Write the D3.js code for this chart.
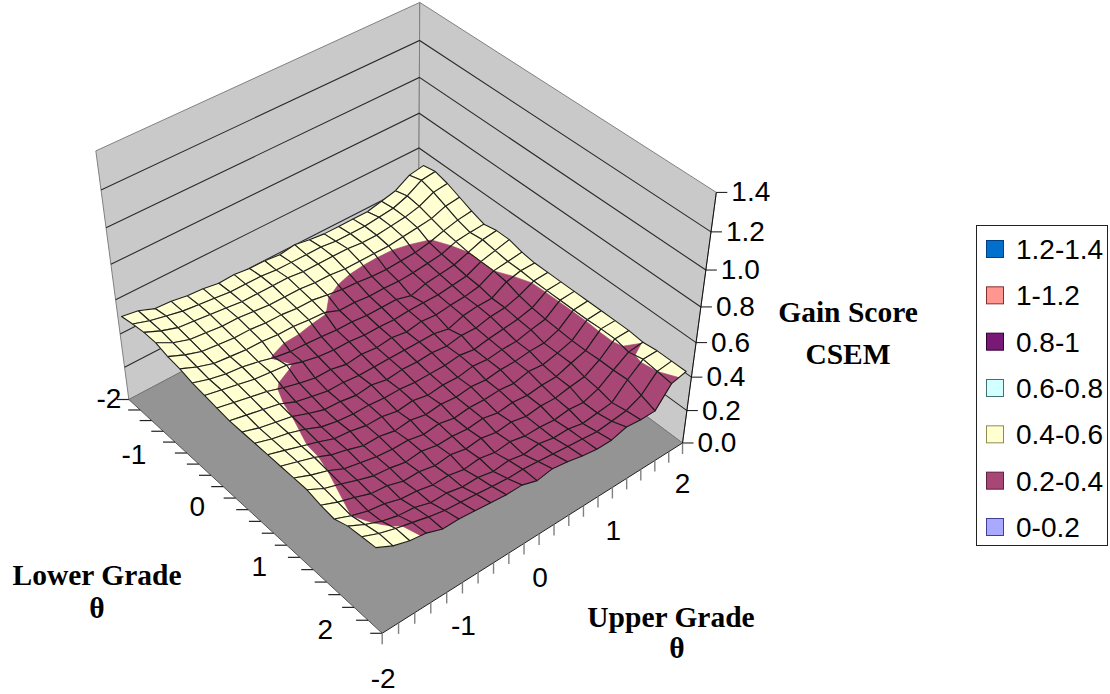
<!DOCTYPE html>
<html>
<head>
<meta charset="utf-8">
<script src="https://cdn.jsdelivr.net/npm/d3@7"></script>
<style>
html,body{margin:0;padding:0;background:#fff;}
svg{display:block;}
text{fill:#000;}
.num{font-family:"Liberation Sans",Arial,sans-serif;font-size:28px;}
.ttl{font-family:"Liberation Serif","Times New Roman",serif;font-weight:bold;font-size:29.5px;text-anchor:middle;}
</style>
</head>
<body>
<svg id="chart" width="1110" height="694"></svg>
<script>
// Theta steps shared by both grade axes
const thetaSteps = [-2,-1.8,-1.6,-1.4,-1.2,-1,-0.8,-0.6,-0.4,-0.2,0,0.2,0.4,0.6,0.8,1,1.2,1.4,1.6,1.8,2];
const thetaLabels = [-2,-1,0,1,2];
const csemTicks = [0,0.2,0.4,0.6,0.8,1,1.2,1.4];
const csemTickLabels = ["0.0","0.2","0.4","0.6","0.8","1.0","1.2","1.4"];

// Band legend, listed top to bottom
const bandNames = ["1.2-1.4","1-1.2","0.8-1","0.6-0.8","0.4-0.6","0.2-0.4","0-0.2"];
const bandFloors = [1.2,1,0.8,0.6,0.4,0.2,0];
const bandCeilings = [1.4,1.2,1,0.8,0.6,0.4,0.2];
const bandFills = ["#0070cc","#ff9690","#7a1878","#d2ffff","#ffffd2","#a84675","#a9a9ff"];
const bandEdges = ["#004080","#803030","#30002f","#407070","#8c8c50","#60203f","#404090"];

// Gain score CSEM: one row per lower grade theta, one column per upper grade theta
const csem = [
[.525,.51,.475,.47,.455,.45,.435,.44,.43,.43,.42,.435,.42,.41,.41,.41,.41,.43,.45,.50,.515],
[.54,.51,.49,.47,.46,.45,.44,.44,.44,.43,.43,.43,.43,.42,.42,.42,.43,.44,.47,.52,.53],
[.55,.51,.48,.47,.46,.45,.44,.44,.44,.44,.43,.43,.43,.43,.42,.42,.43,.44,.46,.50,.51],
[.55,.50,.47,.46,.45,.45,.44,.43,.43,.43,.42,.42,.41,.41,.41,.41,.42,.43,.44,.47,.48],
[.53,.49,.46,.45,.44,.44,.43,.43,.42,.42,.405,.39,.385,.375,.37,.375,.38,.395,.42,.44,.45],
[.52,.48,.45,.44,.43,.43,.42,.42,.41,.405,.37,.37,.36,.36,.355,.36,.37,.38,.41,.42,.425],
[.50,.47,.45,.44,.42,.395,.38,.375,.37,.36,.36,.35,.35,.35,.325,.35,.36,.37,.40,.43,.44],
[.49,.47,.45,.43,.42,.41,.38,.36,.35,.35,.34,.34,.335,.34,.34,.34,.35,.36,.40,.42,.44],
[.48,.46,.44,.42,.39,.365,.345,.345,.325,.335,.325,.335,.32,.335,.325,.335,.34,.355,.40,.41,.42],
[.47,.45,.43,.41,.37,.35,.33,.33,.32,.32,.32,.32,.32,.32,.30,.33,.34,.34,.39,.41,.41],
[.47,.44,.42,.40,.365,.335,.33,.315,.325,.305,.315,.31,.315,.305,.32,.315,.335,.34,.365,.405,.41],
[.47,.44,.42,.39,.35,.33,.32,.32,.31,.31,.30,.30,.30,.31,.295,.31,.32,.33,.35,.405,.41],
[.47,.44,.41,.38,.345,.335,.315,.315,.295,.305,.285,.295,.29,.305,.295,.305,.305,.325,.34,.405,.41],
[.47,.44,.41,.37,.345,.315,.315,.295,.305,.285,.295,.285,.295,.285,.295,.295,.305,.305,.335,.405,.41],
[.47,.43,.40,.355,.335,.315,.305,.305,.285,.295,.275,.285,.28,.285,.275,.295,.285,.305,.33,.405,.41],
[.47,.42,.39,.355,.325,.315,.295,.305,.285,.285,.275,.285,.265,.275,.265,.275,.275,.305,.33,.41,.41],
[.45,.41,.38,.345,.335,.305,.305,.285,.295,.275,.285,.265,.275,.255,.265,.26,.275,.285,.335,.41,.41],
[.44,.40,.37,.355,.325,.315,.295,.295,.275,.285,.265,.275,.255,.255,.245,.255,.245,.275,.335,.392,.401],
[.47,.42,.38,.355,.345,.315,.315,.295,.295,.275,.285,.265,.275,.255,.255,.235,.245,.255,.34,.41,.41],
[.48,.44,.41,.385,.36,.34,.33,.32,.31,.30,.30,.29,.28,.27,.26,.25,.26,.27,.31,.40,.41],
[.49,.44,.41,.395,.36,.36,.35,.34,.33,.33,.30,.315,.30,.28,.265,.265,.29,.28,.28,.39,.41]
];

// Where the corners of the plot box fall on the page: [u, v, w, x, y]
const boxAnchors = [
  [0,0,0,128,397],[0,0,1,97,152],[0,1,0,382,635],[1,1,0,683,440],
  [1,1,1,716,194],[1,0,0,419,250],[1,0,1,419,0]
];

// Fit a 3x4 camera matrix to the anchors by least squares
function fitCamera(anchors){
  const A=[],b=[],k=1000;
  anchors.forEach(([u,v,w,x,y])=>{
    const X=x/k,Y=y/k;
    A.push([u,v,w,1,0,0,0,0,-X*u,-X*v,-X*w]); b.push(X);
    A.push([0,0,0,0,u,v,w,1,-Y*u,-Y*v,-Y*w]); b.push(Y);
  });
  const n=11,M=d3.range(n).map(r=>d3.range(n+1).map(c=>{
    let s=0;A.forEach((row,i)=>{s+=row[r]*(c<n?row[c]:b[i]);});
    return s+(c===r?1e-9:0);
  }));
  for(let c=0;c<n;c++){
    let p=c;for(let r=c+1;r<n;r++)if(Math.abs(M[r][c])>Math.abs(M[p][c]))p=r;
    [M[c],M[p]]=[M[p],M[c]];
    for(let r=0;r<n;r++)if(r!==c){
      const f=M[r][c]/M[c][c];
      for(let t=c;t<=n;t++)M[r][t]-=f*M[c][t];
    }
  }
  const m=M.map((row,i)=>row[n]/row[i]);
  return (u,v,w)=>{
    const d=m[8]*u+m[9]*v+m[10]*w+1;
    return [k*(m[0]*u+m[1]*v+m[2]*w+m[3])/d,k*(m[4]*u+m[5]*v+m[6]*w+m[7])/d];
  };
}
const project = fitCamera(boxAnchors);

const uScale = d3.scaleLinear().domain([-2,2]).range([0,1]);
const vScale = d3.scaleLinear().domain([-2,2]).range([0,1]);
const vSurface = d3.scaleLinear().domain([-2,2]).range([0.018,0.982]);
const wScale = d3.scaleLinear().domain([0,1.4]).range([0,1]);

const svg = d3.select("#chart");
const polyPath = d3.line();
const closed = pts => polyPath(pts)+"Z";

// Walls and floor
const wallColor="#c9c9c9", floorColor="#949494", edgeColor="#808080";
const leftWall=[[0,0,0],[1,0,0],[1,0,1],[0,0,1]].map(p=>project(...p));
const rightWall=[[1,0,0],[1,1,0],[1,1,1],[1,0,1]].map(p=>project(...p));
const floor=[[0,0,0],[0,1,0],[1,1,0],[1,0,0]].map(p=>project(...p));
const box=svg.append("g");
box.selectAll("path.wall").data([leftWall,rightWall]).join("path").attr("class","wall")
  .attr("d",closed).attr("fill",wallColor).attr("stroke",edgeColor).attr("stroke-width",1);
box.append("path").attr("d",closed(floor)).attr("fill",floorColor);

// Horizontal gridlines running across both walls
const gridG=svg.append("g").attr("fill","none").attr("stroke","#2a2a2a").attr("stroke-width",1.1);
csemTicks.slice(1,-1).forEach(t=>{
  const w=wScale(t);
  gridG.append("path").attr("d",polyPath([project(0,0,w),project(1,0,w),project(1,1,w)]));
});

// Floor edges
const floorEdge=svg.append("g").attr("fill","none");
floorEdge.append("path").attr("d",polyPath([floor[0],floor[1]])).attr("stroke","#555");
floorEdge.append("path").attr("d",polyPath([floor[1],floor[2]])).attr("stroke","#222");
floorEdge.append("path").attr("d",polyPath([floor[2],floor[3]])).attr("stroke","#777");
floorEdge.append("path").attr("d",polyPath([floor[3],floor[0]])).attr("stroke","#777");

// Surface: clip every cell against each colour band, painting from the back corner forward
function clipBand(poly,lo,hi){
  const clip=(pts,keep,level)=>{
    const out=[];
    pts.forEach((a,i)=>{
      const c=pts[(i+1)%pts.length],ka=keep(a[2]),kc=keep(c[2]);
      if(ka)out.push(a);
      if(ka!==kc){
        const t=(level-a[2])/(c[2]-a[2]);
        out.push([a[0]+t*(c[0]-a[0]),a[1]+t*(c[1]-a[1]),level]);
      }
    });
    return out;
  };
  return clip(clip(poly,z=>z>=lo,lo),z=>z<=hi,hi);
}
const toPage=([th,lo,z])=>project(uScale(th),vSurface(lo),wScale(z));
const surf=svg.append("g").attr("stroke-linejoin","round");
const cells=[];
for(let j=0;j<thetaSteps.length-1;j++)for(let i=thetaSteps.length-2;i>=0;i--)cells.push([i,j]);
cells.sort((a,b)=>(b[0]-b[1])-(a[0]-a[1]));
cells.forEach(([i,j])=>{
  const quad=[[i,j],[i+1,j],[i+1,j+1],[i,j+1]].map(([a,b])=>[thetaSteps[a],thetaSteps[b],csem[b][a]]);
  bandNames.forEach((_,k)=>{
    const piece=clipBand(quad,bandFloors[k],bandCeilings[k]);
    if(piece.length>2){
      const c=bandFills[k];
      surf.append("path").attr("d",closed(piece.map(toPage))).attr("fill",c).attr("stroke",c).attr("stroke-width",.6);
    }
  });
  surf.append("path").attr("d",closed(quad.map(toPage))).attr("fill","none").attr("stroke","#1c1c1c").attr("stroke-width",1.1);
});

// Lower grade axis ticks along the left front edge
const axes=svg.append("g");
thetaSteps.forEach(t=>{
  const [x,y]=project(0,vScale(t),0);
  axes.append("line").attr("x1",x-12).attr("x2",x).attr("y1",y).attr("y2",y).attr("stroke","#222").attr("stroke-width",1.2);
});
// Upper grade axis ticks along the right front edge
thetaSteps.forEach(t=>{
  const [x,y]=project(uScale(t),1,0);
  axes.append("line").attr("x1",x).attr("x2",x).attr("y1",y).attr("y2",y+11).attr("stroke","#808080").attr("stroke-width",1.4);
});
// CSEM axis with its ticks
const zBase=project(1,1,0), zTop=project(1,1,1);
axes.append("line").attr("x1",zBase[0]).attr("y1",zBase[1]).attr("x2",zTop[0]).attr("y2",zTop[1]).attr("stroke","#111");
csemTicks.forEach((t,n)=>{
  const [x,y]=project(1,1,wScale(t));
  axes.append("line").attr("x1",x).attr("x2",x+11).attr("y1",y).attr("y2",y).attr("stroke","#111");
  svg.append("text").attr("class","num").attr("x",x+15).attr("y",y+9).text(csemTickLabels[n]);
});

// Axis number labels, each nudged off its tick
const lowerLabelShift = new Map([[-2,[-20,8]],[-1,[-53,11]],[0,[-51,6]],[1,[-54,6]],[2,[-57,6]]]);
const upperLabelShift = new Map([[-2,[1,55]],[-1,[1,53]],[0,[1,53]],[1,[1,53]],[2,[0,50]]]);
thetaLabels.forEach(t=>{
  const [x,y]=project(0,vScale(t),0);
  const [dx,dy]=lowerLabelShift.get(t);
  svg.append("text").attr("class","num").attr("text-anchor","middle").attr("x",x+dx).attr("y",y+dy).text(t);
});
thetaLabels.forEach(t=>{
  const [x,y]=project(uScale(t),1,0);
  const [dx,dy]=upperLabelShift.get(t);
  svg.append("text").attr("class","num").attr("text-anchor","middle").attr("x",x+dx).attr("y",y+dy).text(t);
});

// Axis titles
[["Gain Score",848,322],["CSEM",848,364],["Lower Grade",97,585],["θ",97,618],["Upper Grade",671,627],["θ",677,658]]
  .forEach(([s,x,y])=>svg.append("text").attr("class","ttl").attr("x",x).attr("y",y).text(s));

// Legend
const legend=svg.append("g");
legend.append("rect").attr("x",976.5).attr("y",225.5).attr("width",131).attr("height",320).attr("fill","#fff").attr("stroke","#222");
const legendY=d3.scalePoint().domain(bandNames).range([249,527]);
bandNames.forEach((name,k)=>{
  const y=legendY(name);
  legend.append("rect").attr("x",986.5).attr("y",y-8.5).attr("width",17).attr("height",17)
    .attr("fill",bandFills[k]).attr("stroke",bandEdges[k]);
  legend.append("text").attr("class","num").attr("x",1016).attr("y",y+10).text(name);
});
</script>
</body>
</html>
